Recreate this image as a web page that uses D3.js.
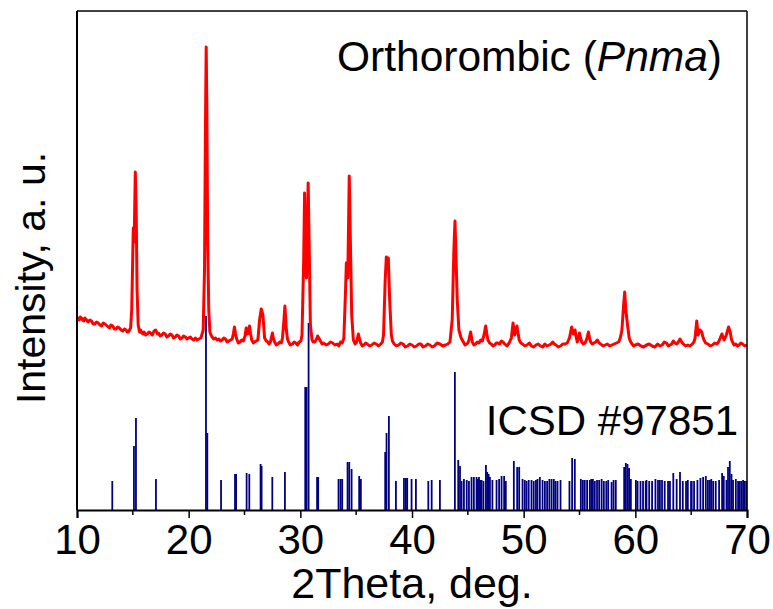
<!DOCTYPE html>
<html><head><meta charset="utf-8">
<script src="https://cdn.jsdelivr.net/npm/d3@7"></script>
<style>
html,body{margin:0;padding:0;background:#fff;}
svg{display:block;font-family:"Liberation Sans",Arial,sans-serif;}
</style></head>
<body>
<svg id="chart" width="773" height="609"></svg>
<script>
// measured XRD pattern (2Theta, intensity a.u.)
const measured = [
[10.0,193],[10.1,191],[10.2,190],[10.3,193],[10.4,192],[10.5,190],[10.6,189],[10.7,192],[10.8,191],[10.9,189],[11.0,188],[11.15,190],[11.3,189],[11.45,186],[11.6,186],[11.75,188],[11.9,187],[12.05,185],[12.2,184],[12.35,187],
[12.5,186],[12.7,184],[12.9,182],[13.05,185],[13.2,184],[13.35,181],[13.5,181],[13.65,183],[13.8,182],[13.95,180],[14.1,179],[14.25,181],[14.4,180],[14.5,178],[14.6,178],[14.7,180],[14.8,182],[14.9,200],
[14.97,240],[15.04,282],[15.12,268],[15.22,338],[15.3,300],[15.38,220],[15.48,185],[15.6,178],[15.7,180],[15.8,177],[15.9,176],[16.0,178],[16.15,175],
[16.3,176],[16.45,178],[16.6,177],[16.75,175],[16.9,179],[17.05,180],[17.2,176],[17.3,177],[17.45,174],[17.6,175],[17.75,177],[17.9,176],[18.05,173],[18.2,174],[18.35,176],[18.5,175],[18.65,172],[18.8,173],
[18.95,175],[19.1,174],[19.25,171],[19.4,172],[19.55,174],[19.7,173],[19.85,171],[20.0,172],[20.15,173],[20.3,171],[20.45,170],[20.6,172],[20.75,170],[20.9,171],[21.1,172],[21.3,180],[21.42,240],
[21.5,380],[21.57,463],[21.63,400],[21.7,270],[21.8,200],[21.9,178],[22.0,175],[22.1,173],[22.25,171],[22.4,172],[22.55,170],[22.7,171],[22.85,169],[23.0,170],[23.15,172],
[23.3,171],[23.45,168],[23.6,169],[23.75,170],[23.9,171],[24.0,176],[24.1,183],[24.2,176],[24.3,171],[24.45,167],[24.6,168],[24.75,170],[24.9,169],[25.05,174],[25.15,182],[25.28,176],[25.45,184],[25.55,176],
[25.65,170],[25.8,167],[25.9,168],[26.05,169],[26.2,170],[26.35,190],[26.5,201],[26.65,195],[26.8,172],[26.95,169],[27.1,168],[27.2,166],[27.3,167],[27.4,172],[27.5,177],[27.6,171],
[27.7,168],[27.85,165],[28.0,166],[28.15,168],[28.3,167],[28.4,172],[28.5,185],[28.62,204],[28.75,180],[28.85,171],[28.95,168],[29.1,165],[29.3,166],[29.45,168],[29.6,167],[29.75,165],[29.9,168],[30.05,169],
[30.15,175],[30.3,250],[30.38,317],[30.47,240],[30.55,232],[30.7,327],[30.8,260],[30.9,185],[31.05,170],[31.15,168],[31.3,168],[31.45,171],
[31.55,174],[31.65,172],[31.8,169],[31.95,166],[32.1,167],[32.3,165],[32.5,166],[32.7,168],[32.9,167],[33.1,165],[33.3,166],[33.45,164],[33.6,168],[33.75,167],[33.9,172],[34.05,220],[34.12,247],
[34.25,232],[34.38,334],[34.48,270],[34.6,195],[34.75,170],[34.9,166],[35.0,167],[35.1,171],[35.2,176],[35.3,171],[35.4,167],[35.55,164],[35.7,165],[35.85,167],[36.0,166],[36.2,164],
[36.4,165],[36.6,167],[36.8,166],[37.0,164],[37.2,166],[37.35,168],[37.45,175],[37.6,230],[37.7,253],[37.8,247],[37.88,252],[38.0,210],[38.15,175],[38.25,169],
[38.4,166],[38.6,164],[38.8,165],[39.0,167],[39.2,166],[39.4,163],[39.6,164],[39.8,166],[40.0,165],[40.2,163],[40.4,164],[40.6,166],[40.8,166],[41.0,163],[41.2,164],[41.4,166],[41.6,165],[41.8,163],[42.0,164],
[42.25,167],[42.5,166],[42.75,164],[43.0,165],[43.2,166],[43.4,168],[43.6,190],[43.75,260],[43.85,289],[43.95,250],[44.05,210],[44.2,180],[44.4,172],
[44.6,168],[44.75,165],[44.9,166],[45.0,167],[45.1,170],[45.25,178],[45.4,168],[45.55,165],[45.7,166],[45.85,168],[46.0,167],[46.15,170],[46.3,169],[46.45,175],[46.6,184],[46.7,176],[46.8,170],
[46.95,167],[47.1,166],[47.25,164],[47.4,165],[47.55,167],[47.7,167],[47.85,166],[48.0,169],[48.15,168],[48.3,166],[48.5,164],[48.7,167],[48.9,172],[49.05,187],[49.2,175],[49.4,184],[49.5,177],[49.6,170],
[49.75,167],[49.9,166],[50.1,164],[50.3,165],[50.5,167],[50.7,164],[50.9,163],[51.1,165],[51.3,166],[51.5,164],[51.7,163],[51.9,166],[52.1,164],[52.3,165],[52.45,166],[52.6,168],[52.75,166],[52.9,165],[53.1,163],[53.3,164],
[53.5,166],[53.7,166],[53.9,167],[54.1,172],[54.3,183],[54.45,176],[54.6,180],[54.7,173],[54.8,168],[54.9,171],[55.0,177],[55.1,172],[55.2,168],[55.35,166],[55.5,167],[55.65,171],[55.8,178],
[55.9,172],[56.0,168],[56.15,166],[56.3,167],[56.45,168],[56.6,170],[56.75,167],[56.9,166],[57.1,164],[57.3,165],[57.5,166],[57.7,164],[57.9,165],[58.1,166],[58.3,167],[58.5,168],[58.65,172],[58.8,180],[58.95,205],
[59.05,218],[59.15,200],[59.3,185],[59.45,172],[59.55,169],[59.7,166],[59.85,164],[60.0,165],[60.25,166],[60.5,164],[60.75,163],[61.0,165],[61.25,166],[61.5,164],[61.75,163],[62.0,166],
[62.2,164],[62.4,165],[62.6,168],[62.8,167],[62.95,164],[63.1,165],[63.25,166],[63.4,169],[63.55,167],[63.7,166],[63.85,168],[64.0,171],[64.15,168],[64.3,166],[64.5,164],[64.7,165],[64.9,164],[65.1,166],[65.25,168],[65.35,172],
[65.5,189],[65.62,175],[65.8,180],[65.95,178],[66.05,173],[66.15,170],[66.3,167],[66.5,166],[66.7,164],[66.9,165],[67.1,167],[67.3,166],[67.45,168],[67.6,172],[67.75,176],
[67.95,170],[68.15,175],[68.35,183],[68.5,178],[68.6,171],[68.7,168],[68.85,165],[69.0,166],[69.15,164],[69.3,165],[69.45,167],[69.6,166],[69.8,164],[70.0,165]
];

// reference stick pattern ICSD #97851 (2Theta, relative height)
const refPos = [13.16,15.1,15.28,17.07,21.55,21.67,22.9,24.15,24.25,25.19,25.43,26.44,26.53,27.49,28.62,
30.44,30.56,30.74,31.5,31.6,33.42,33.6,33.75,34.23,34.38,34.59,35.27,35.42,37.6,37.72,37.93,38.56,
39.28,39.45,39.57,39.96,40.35,41.46,41.76,42.5,43.84,44.14,44.3,44.44,44.65,45.33,45.54,45.78,46.0,46.23,
46.62,46.74,46.86,46.98,47.57,48.02,48.25,49.12,49.42,49.6,49.9,50.1,50.26,50.7,51.24,51.45,51.69,51.9,52.1,
52.5,52.7,53.03,54.34,54.58,55.12,55.47,55.68,55.92,56.37,56.57,56.76,56.98,57.18,57.57,57.87,58.25,
59.0,59.15,59.3,59.44,60.46,60.69,60.93,61.24,62.03,62.39,62.63,62.93,63.4,64.0,64.25,64.54,64.99,65.26,
65.56,65.83,66.07,66.31,66.67,66.97,67.77,67.92,68.16,68.3,68.46,68.61,68.75,69.2,69.5,69.8,
45.9,46.1,46.4,47.2,47.8,48.4,50.45,50.9,51.1,52.3,52.85,55.3,56.2,57.4,58.05,59.6,60.2,61.0,61.5,61.8,
62.2,63.1,63.7,64.7,65.05,66.5,66.8,67.2,67.5,69.0,69.35,69.65,69.95,44.9,45.1,53.3,54.1,56.05,60.05];
const refHeight = [29,64,92,31,194,77,30,36,36,37,36,46,44,33,38,
123,123,187,33,33,31,31,31,48,48,41,34,31,58,77,94,29,
32,32,32,31,31,29,30,30,138,50,44,29,31,33,33,33,33,30,
45,38,36,33,30,34,34,49,43,43,31,30,29,30,31,33,30,29,29,
31,31,29,52,51,31,30,30,30,29,30,30,31,29,30,28,30,
43,47,46,42,29,29,29,29,30,30,29,29,37,38,29,29,29,29,
30,32,33,34,30,29,37,34,30,43,49,36,30,29,29,29,
31,30,29,30,31,29,30,29,30,31,29,30,31,29,30,31,29,30,29,31,
30,29,31,30,29,30,31,29,30,31,29,30,29,30,29,30,29,31,30];

const xTicks = [10,20,30,40,50,60,70];
const xMinorTicks = [15,25,35,45,55,65];
const xLabel = "2Theta, deg.";
const yLabel = "Intensity, a. u.";
const phaseLabel = "Orthorombic";
const phaseGroup = "Pnma";
const refLabel = "ICSD #97851";

const svg = d3.select("#chart");
const L = 77, R = 747, T = 11, B = 510;
const x = d3.scaleLinear().domain([10,70]).range([L,R]);
const y = d3.scaleLinear().domain([0,499]).range([B,T]);

// stick pattern
const sticks = refPos.map((p,i)=>({p, h: refHeight[i]}));
svg.append("g").selectAll("line").data(sticks).join("line")
  .attr("x1", d=>x(d.p)).attr("x2", d=>x(d.p))
  .attr("y1", y(0)).attr("y2", d=>y(d.h))
  .attr("stroke", "#000080").attr("stroke-width", 1.8);

// measured pattern
const line = d3.line().x(d=>x(d[0])).y(d=>y(d[1]));
svg.append("path").datum(measured)
  .attr("d", line).attr("fill","none")
  .attr("stroke","#ff0000").attr("stroke-width",3).attr("stroke-linejoin","round");

// frame
svg.append("line").attr("x1",L).attr("x2",R).attr("y1",T).attr("y2",T).attr("stroke","#000").attr("stroke-width",1.5);
svg.append("line").attr("x1",R).attr("x2",R).attr("y1",T).attr("y2",B).attr("stroke","#000").attr("stroke-width",1.5);
svg.append("line").attr("x1",L).attr("x2",L).attr("y1",T).attr("y2",B).attr("stroke","#000").attr("stroke-width",2);

// x axis
const ax = svg.append("g").attr("transform",`translate(0,${B})`)
  .call(d3.axisBottom(x).tickValues(xTicks).tickSize(8).tickPadding(6).tickFormat(d3.format("d")));
ax.select(".domain").attr("stroke-width",2);
ax.selectAll(".tick line").attr("stroke-width",1.5);
ax.selectAll(".tick text").attr("font-size",42).attr("font-family","Liberation Sans, Arial, sans-serif").attr("fill","#000")
  .attr("dy","0.71em");
svg.append("g").attr("transform",`translate(0,${B})`)
  .selectAll("line").data(xMinorTicks).join("line")
  .attr("x1",d=>x(d)).attr("x2",d=>x(d)).attr("y1",0).attr("y2",5)
  .attr("stroke","#000").attr("stroke-width",1.5);

// titles
svg.append("text").attr("x",(L+R)/2).attr("y",598).attr("text-anchor","middle")
  .attr("font-size",43).text(xLabel);
svg.append("text").attr("transform","translate(45,278) rotate(-90)").attr("text-anchor","middle")
  .attr("font-size",41).text(yLabel);

const t1 = svg.append("text").attr("x",722).attr("y",71).attr("text-anchor","end").attr("font-size",42.5);
t1.append("tspan").text(phaseLabel + " (");
t1.append("tspan").attr("font-style","italic").text(phaseGroup);
t1.append("tspan").text(")");

svg.append("text").attr("x",738).attr("y",435).attr("text-anchor","end").attr("font-size",42).text(refLabel);
</script>
</body></html>
